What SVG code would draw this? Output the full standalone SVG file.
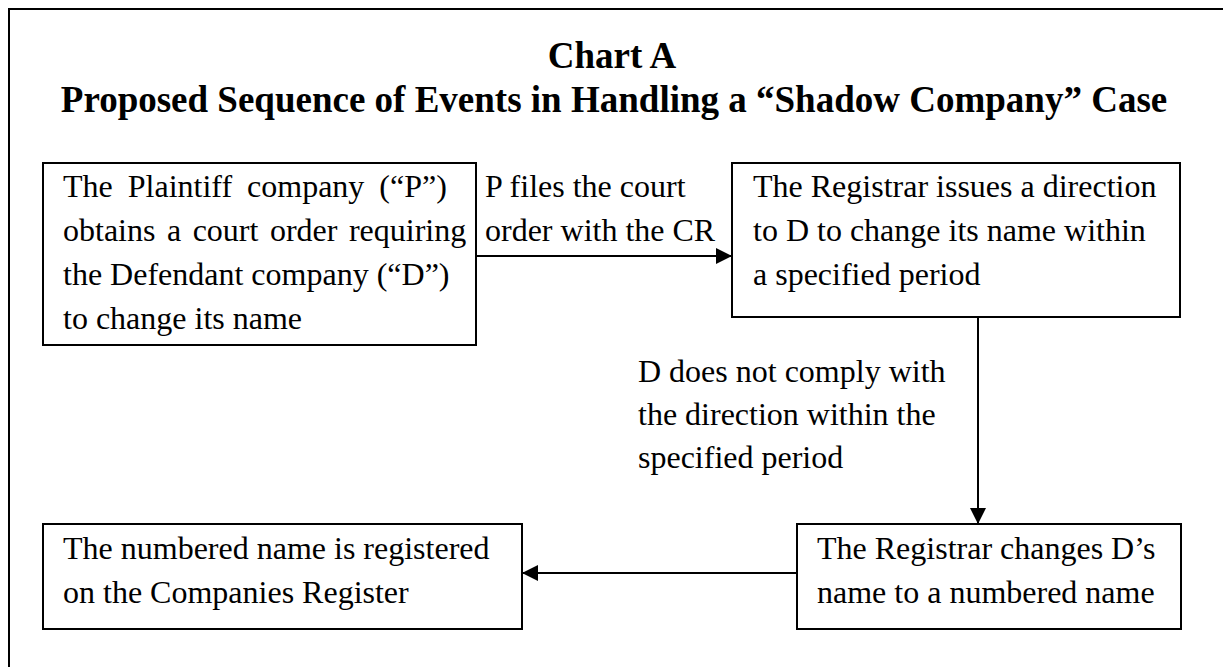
<svg xmlns="http://www.w3.org/2000/svg" width="1223" height="667" viewBox="0 0 1223 667">
<style>
.t{font-family:"Liberation Serif","Times New Roman",serif;font-size:32px;fill:#000}
.h{font-family:"Liberation Serif","Times New Roman",serif;font-size:37px;font-weight:bold;fill:#000;text-anchor:middle}
.b{fill:#fff;stroke:#000;stroke-width:2}
.c{stroke:#000;stroke-width:2;fill:none}
</style>
<defs>
<marker id="ah" markerUnits="userSpaceOnUse" markerWidth="16" markerHeight="16" refX="16" refY="8" orient="auto"><path d="M0,0 L16,8 L0,16 Z" fill="#000"/></marker>
</defs>
<rect width="1223" height="667" fill="#fff"/>
<rect x="9" y="9" width="1230" height="680" fill="none" stroke="#000" stroke-width="2"/>
<g id="title">
<text class="h" x="612" y="68">Chart A</text>
<text class="h" x="614" y="112">Proposed Sequence of Events in Handling a “Shadow Company” Case</text>
</g>
<g id="node-p">
<rect class="b" x="43" y="163" width="433" height="182"/>
<text class="t" x="63" y="197" word-spacing="7">The Plaintiff company (“P”)</text>
<text class="t" x="63" y="241" word-spacing="3.5">obtains a court order requiring</text>
<text class="t" x="63" y="285">the Defendant company (“D”)</text>
<text class="t" x="63" y="329">to change its name</text>
</g>
<g id="node-direction">
<rect class="b" x="732" y="163" width="448" height="154"/>
<text class="t" x="753" y="197">The Registrar issues a direction</text>
<text class="t" x="753" y="241">to D to change its name within</text>
<text class="t" x="753" y="285">a specified period</text>
</g>
<g id="node-change">
<rect class="b" x="797" y="524" width="384" height="105"/>
<text class="t" x="817" y="559">The Registrar changes D’s</text>
<text class="t" x="817" y="603">name to a numbered name</text>
</g>
<g id="node-register">
<rect class="b" x="43" y="524" width="479" height="105"/>
<text class="t" x="63" y="559">The numbered name is registered</text>
<text class="t" x="63" y="603">on the Companies Register</text>
</g>
<g id="connectors">
<line class="c" x1="476" y1="256" x2="732" y2="256" marker-end="url(#ah)"/>
<line class="c" x1="978" y1="317" x2="978" y2="524" marker-end="url(#ah)"/>
<line class="c" x1="797" y1="573" x2="522" y2="573" marker-end="url(#ah)"/>
<text class="t" x="485" y="197">P files the court</text>
<text class="t" x="485" y="241">order with the CR</text>
<text class="t" x="638" y="382">D does not comply with</text>
<text class="t" x="638" y="425">the direction within the</text>
<text class="t" x="638" y="468">specified period</text>
</g>
</svg>
